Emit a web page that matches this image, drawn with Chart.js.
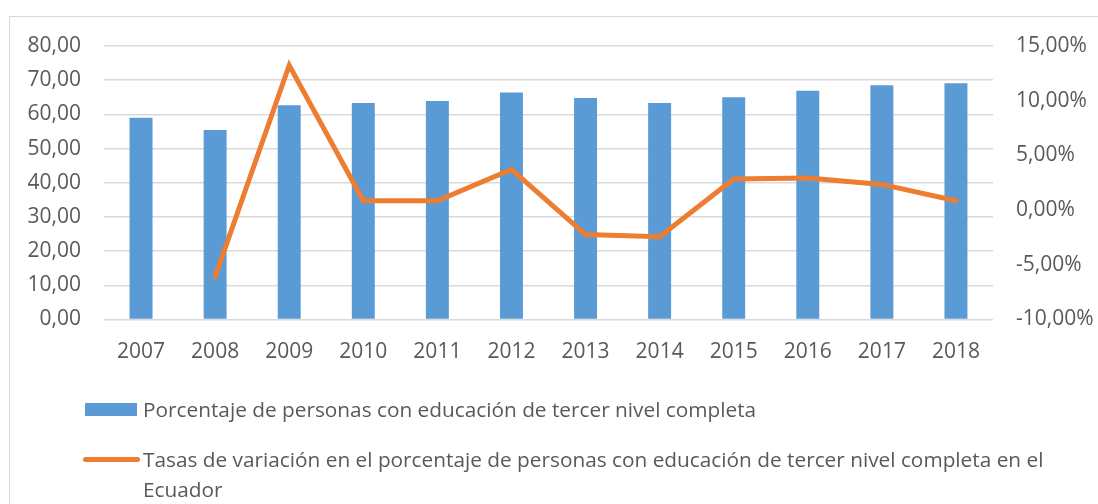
<!DOCTYPE html>
<html>
<head>
<meta charset="utf-8">
<script src="https://cdn.jsdelivr.net/npm/chart.js@4"></script>
<style>
  html, body { margin: 0; padding: 0; background: #fff; overflow: hidden; }
  #wrap { position: relative; width: 1098px; height: 504px; }
  #frame { position: absolute; left: 9px; top: 16px; width: 1200px; height: 600px; border: 1.5px solid #d9d9d9; }
  #box { position: absolute; left: 0; top: 0; width: 1098px; height: 504px; }
  #legend { position: absolute; left: 83px; top: 394px; width: 1000px; font-family: "Open Sans", sans-serif; font-size: 20.8px; color: #595959; }
  .item { display: flex; align-items: flex-start; line-height: 30px; margin-bottom: 19.5px; }
  .mark { flex: 0 0 57px; height: 30px; position: relative; margin-right: 3px; }
  .txt { width: 930px; }
</style>
</head>
<body>
<div id="wrap">
  <div id="frame"></div>
  <div id="box"><canvas id="myChart"></canvas></div>
  <div id="legend"></div>
</div>
<script>
const years = ['2007','2008','2009','2010','2011','2012','2013','2014','2015','2016','2017','2018'];
const porcentaje = [59.0, 55.4, 62.7, 63.3, 63.9, 66.4, 64.8, 63.3, 65.0, 66.9, 68.5, 69.1];
const tasas = [null, -6.08, 13.24, 0.86, 0.86, 3.72, -2.24, -2.43, 2.84, 2.93, 2.35, 0.86];

const labelBar = 'Porcentaje de personas con educación de tercer nivel completa';
const labelLine = 'Tasas de variación en el porcentaje de personas con educación de tercer nivel completa en el Ecuador';

const gris = '#595959';
const tickFont = { family: 'Open Sans', size: 21 };

// leyenda en html, para que el texto largo se parta en dos lineas
const htmlLegend = {
  id: 'htmlLegend',
  afterUpdate(chart) {
    const box = document.getElementById('legend');
    box.innerHTML = '';
    chart.data.datasets.forEach(ds => {
      const item = document.createElement('div');
      item.className = 'item';
      const mark = document.createElement('div');
      mark.className = 'mark';
      const sw = document.createElement('div');
      sw.style.position = 'absolute';
      sw.style.background = ds.type === 'line' ? ds.borderColor : ds.backgroundColor;
      if (ds.type === 'line') {
        sw.style.left = '0px'; sw.style.width = '57px';
        sw.style.top = '13px'; sw.style.height = '5px';
        sw.style.borderRadius = '3px';
      } else {
        sw.style.left = '2px'; sw.style.width = '52px';
        sw.style.top = '9px'; sw.style.height = '13px';
      }
      mark.appendChild(sw);
      const txt = document.createElement('div');
      txt.className = 'txt';
      txt.textContent = ds.label;
      item.appendChild(mark);
      item.appendChild(txt);
      box.appendChild(item);
    });
  }
};

const data = {
  labels: years,
  datasets: [{
    type: 'bar',
    label: labelBar,
    data: porcentaje,
    backgroundColor: '#5B9BD5',
    barPercentage: 0.31,
    categoryPercentage: 1,
    yAxisID: 'y',
    order: 1
  }, {
    type: 'line',
    label: labelLine,
    data: tasas,
    borderColor: '#ED7D31',
    backgroundColor: '#ED7D31',
    borderWidth: 5,
    borderCapStyle: 'round',
    pointRadius: 0,
    tension: 0,
    yAxisID: 'y2',
    order: 0
  }]
};

const config = {
  type: 'bar',
  data: data,
  plugins: [htmlLegend],
  options: {
    responsive: true,
    maintainAspectRatio: false,
    animation: false,
    layout: { padding: { top: 46, left: 0, right: 0, bottom: 140.5 } },
    plugins: {
      legend: { display: false },
      tooltip: { enabled: false }
    },
    scales: {
      x: {
        grid: { display: false, drawTicks: false },
        border: { display: false },
        ticks: { color: gris, font: tickFont, padding: 20 },
        afterFit: s => { s.height = 44; }
      },
      y: {
        position: 'left',
        min: 0, max: 80,
        grid: { color: '#d9d9d9', lineWidth: 1.5, drawTicks: false },
        border: { display: false },
        ticks: {
          stepSize: 10, color: gris, font: tickFont, padding: 23,
          callback: v => v.toFixed(2).replace('.', ',')
        },
        afterFit: s => { s.width = 104; }
      },
      y2: {
        position: 'right',
        min: -10, max: 15,
        grid: { display: false, drawTicks: false },
        border: { display: false },
        ticks: {
          stepSize: 5, color: gris, font: tickFont, padding: 23,
          callback: v => v.toFixed(2).replace('.', ',') + '%'
        },
        afterFit: s => { s.width = 105; }
      }
    }
  }
};

const myChart = new Chart(document.getElementById('myChart'), config);
</script>
</body>
</html>
